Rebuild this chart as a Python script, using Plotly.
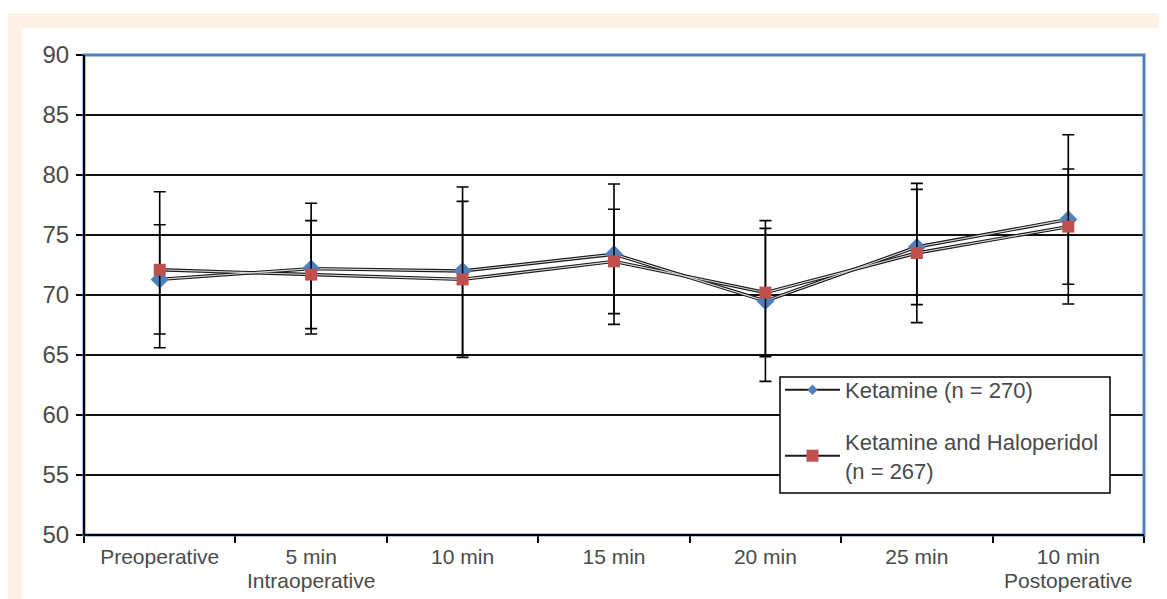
import plotly.graph_objects as go

categories = ["Preoperative", "5 min", "10 min", "15 min", "20 min", "25 min", "10 min"]
sublabels = ["", "Intraoperative", "", "", "", "", "Postoperative"]
ket_mean = [71.3, 72.2, 72.0, 73.4, 69.5, 74.0, 76.3]
ket_sd = [4.55, 5.45, 7.0, 5.85, 6.7, 4.8, 7.05]
hal_mean = [72.1, 71.7, 71.3, 72.8, 70.2, 73.5, 75.7]
hal_sd = [6.5, 4.5, 6.5, 4.35, 5.35, 5.8, 4.8]
ket_name = "Ketamine (n = 270)"
hal_name = "Ketamine and Haloperidol<br>(n = 267)"
y_ticks = [50, 55, 60, 65, 70, 75, 80, 85, 90]

BLUE = "#4f81bd"
RED = "#c0504d"
FONT = "Liberation Sans, Arial, sans-serif"
TXT = "#4a4a4a"

xs = list(range(len(categories)))
bounds = [i - 0.5 for i in range(len(categories) + 1)]

fig = go.Figure()

# double-line effect: dark outline + light core
for ys in (ket_mean, hal_mean):
    fig.add_trace(go.Scatter(x=xs, y=ys, mode="lines",
                             line=dict(color="#1a1a1a", width=3.4),
                             showlegend=False, hoverinfo="skip"))
for ys in (ket_mean, hal_mean):
    fig.add_trace(go.Scatter(x=xs, y=ys, mode="lines",
                             line=dict(color="#d8d8d8", width=1.1),
                             showlegend=False, hoverinfo="skip"))

fig.add_trace(go.Scatter(
    x=xs, y=ket_mean, mode="markers", showlegend=False,
    marker=dict(symbol="diamond", size=14, color=BLUE),
    error_y=dict(type="data", array=ket_sd, color="black", thickness=1.6, width=6)))
fig.add_trace(go.Scatter(
    x=xs, y=hal_mean, mode="markers", showlegend=False,
    marker=dict(symbol="square", size=12, color=RED),
    error_y=dict(type="data", array=hal_sd, color="black", thickness=1.6, width=6)))

# legend entries
fig.add_trace(go.Scatter(x=[None], y=[None], mode="lines+markers", name=ket_name,
                         legendgroup="ket",
                         line=dict(color="#1a1a1a", width=2),
                         marker=dict(symbol="diamond", size=8, color=BLUE)))
fig.add_trace(go.Scatter(x=[None], y=[None], mode="lines+markers", name=hal_name,
                         legendgroup="hal",
                         line=dict(color="#1a1a1a", width=2),
                         marker=dict(symbol="square", size=12, color=RED)))

def px_x(p):
    return (p - 84) / 1060.0

def px_y(p):
    return (535 - p) / 480.0

shapes = [
    dict(type="rect", xref="paper", yref="paper", layer="below",
         x0=px_x(8), x1=px_x(1180), y0=px_y(610), y1=px_y(13),
         fillcolor="#fdf2e5", line=dict(width=0)),
    dict(type="rect", xref="paper", yref="paper", layer="below",
         x0=px_x(22), x1=px_x(1180), y0=px_y(610), y1=px_y(28),
         fillcolor="white", line=dict(width=0)),
    dict(type="rect", xref="paper", yref="paper", layer="above",
         x0=0, x1=1, y0=0, y1=1, line=dict(color=BLUE, width=3)),
    dict(type="line", xref="paper", yref="paper", layer="above",
         x0=0, x1=0, y0=0, y1=1, line=dict(color="black", width=2)),
    dict(type="line", xref="paper", yref="paper", layer="above",
         x0=0, x1=1, y0=0, y1=0, line=dict(color="black", width=2)),
    # legend frame
    dict(type="rect", xref="paper", yref="paper", layer="above",
         x0=px_x(780), x1=px_x(1110), y0=px_y(493), y1=px_y(377),
         fillcolor="white", line=dict(color="black", width=1.5)),
]

annotations = []
for i, s in enumerate(sublabels):
    if s:
        annotations.append(dict(x=xs[i], y=0, xref="x", yref="paper", text=s,
                                showarrow=False, xanchor="center", yanchor="top",
                                yshift=-32, font=dict(size=21, color=TXT, family=FONT)))

fig.update_layout(
    width=1167, height=599,
    margin=dict(l=76, r=31, t=47, b=72),
    paper_bgcolor="white", plot_bgcolor="white",
    shapes=shapes, annotations=annotations,
    font=dict(family=FONT, color=TXT),
    xaxis=dict(range=[-0.5, 6.5], tickmode="array", tickvals=xs, ticktext=categories,
               ticks="outside", ticklen=0, showgrid=False, showline=False,
               zeroline=False, ticklabelstandoff=3,
               minor=dict(tickmode="array", tickvals=bounds, ticks="outside",
                          ticklen=7, tickwidth=1.5, tickcolor="black", showgrid=False),
               tickfont=dict(size=21, color=TXT, family=FONT)),
    yaxis=dict(range=[50, 90], tickvals=y_ticks, ticks="outside", ticklen=7,
               tickwidth=1.5, tickcolor="black", showgrid=True,
               gridcolor="#111111", gridwidth=1.5, zeroline=False,
               showline=False, ticklabelstandoff=2,
               tickfont=dict(size=24, color=TXT, family=FONT)),
    legend=dict(x=px_x(780), y=px_y(369), xanchor="left", yanchor="top",
                bgcolor="rgba(0,0,0,0)", borderwidth=0,
                font=dict(size=22, color=TXT, family=FONT),
                itemwidth=55, tracegroupgap=20),
    showlegend=True,
)

fig.write_html("out.html")
